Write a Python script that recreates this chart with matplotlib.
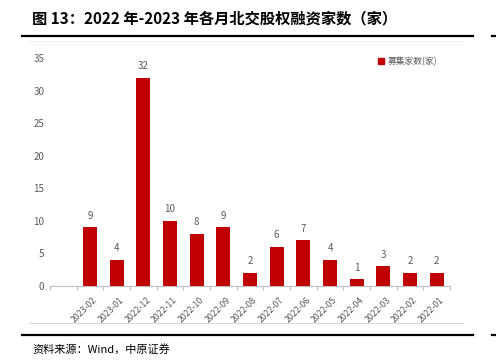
import matplotlib
matplotlib.use("Agg")
import matplotlib.pyplot as plt
from matplotlib.lines import Line2D
from matplotlib.patches import Rectangle

plt.rcParams['font.family'] = ['Noto Sans CJK SC', 'DejaVu Sans']

# data
months = ['2023-02', '2023-01', '2022-12', '2022-11', '2022-10', '2022-09', '2022-08',
          '2022-07', '2022-06', '2022-05', '2022-04', '2022-03', '2022-02', '2022-01']
counts = [9, 4, 32, 10, 8, 9, 2, 6, 7, 4, 1, 3, 2, 2]
yticks = [0, 5, 10, 15, 20, 25, 30, 35]

bar_color = '#C00000'
text_gray = '#595959'
W, H = 496, 360

fig = plt.figure(figsize=(W / 100, H / 100), dpi=100)
ax = fig.add_axes([50 / W, 1 - 286 / H, 400 / W, 228 / H])

xs = list(range(len(months)))
ax.bar(xs, counts, width=0.52, color=bar_color, zorder=3)
for x, v in zip(xs, counts):
    ax.text(x, v + 1.0, str(v), ha='center', va='bottom', fontsize=7, color=text_gray)

ax.set_xlim(-1.5, len(months) - 0.5)
ax.set_ylim(0, 35)
ax.set_yticks(yticks)
ax.tick_params(axis='y', length=0, labelsize=7, labelcolor=text_gray, pad=4)

# ticks sit on category boundaries, labels under each bar
ax.set_xticks([x - 0.5 for x in range(len(months) + 1)] + [-1.5])
ax.set_xticklabels([])
ax.tick_params(axis='x', length=3, color='#BFBFBF', width=0.8)
for x, m in zip(xs, months):
    ax.text(x + 0.1, -1.5, m, rotation=45, ha='right', va='top', rotation_mode='anchor',
            fontsize=6.3, color=text_gray)

for s in ['top', 'right', 'left']:
    ax.spines[s].set_visible(False)
ax.spines['bottom'].set_color('#BFBFBF')
ax.spines['bottom'].set_linewidth(0.8)

# legend
fig.patches.append(Rectangle((378 / W, 1 - 64 / H), 6 / W, 6 / H, transform=fig.transFigure,
                             color=bar_color))
fig.text(388 / W, 1 - 61 / H, '募集家数(家)', fontsize=6.3, color=text_gray, va='center')

# faint frame lines of the chart area
fig.lines.append(Line2D([29 / W, 463 / W], [1 - 41 / H, 1 - 41 / H], transform=fig.transFigure,
                        color='#F0F0F0', lw=0.8))
fig.lines.append(Line2D([29 / W, 463 / W], [1 - 323 / H, 1 - 323 / H], transform=fig.transFigure,
                        color='#D9D9D9', lw=0.8))

# title and source rules
for y in [36, 335]:
    fig.lines.append(Line2D([22 / W, 473 / W], [1 - y / H, 1 - y / H], transform=fig.transFigure,
                            color='black', lw=1.6))
    fig.lines.append(Line2D([492 / W, 1.0], [1 - y / H, 1 - y / H], transform=fig.transFigure,
                            color='black', lw=1.6))

fig.text(32 / W, 1 - 18 / H, '图 13：2022 年-2023 年各月北交股权融资家数（家）',
         fontsize=11, fontweight='bold', va='center', color='black')
fig.text(32 / W, 1 - 349 / H, '资料来源：Wind，中原证券', fontsize=8, va='center', color='black')

fig.savefig('out.png', dpi=100)
